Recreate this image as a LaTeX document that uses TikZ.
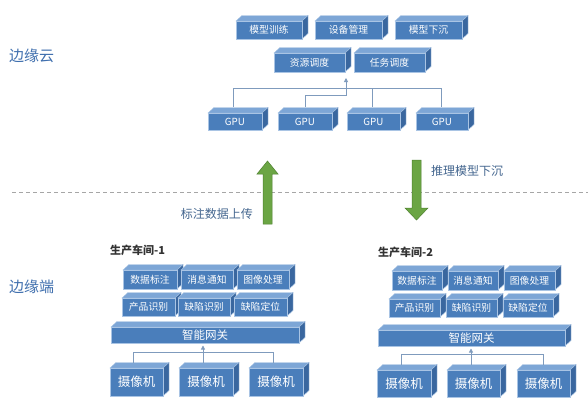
\documentclass[tikz,border=0pt]{standalone}
\usepackage{fontspec}
\setmainfont{Noto Sans CJK SC}
\usetikzlibrary{arrows.meta}
\definecolor{frontc}{HTML}{4A7EBB}
\definecolor{topc}{HTML}{7DA6D6}
\definecolor{sidec}{HTML}{3A679F}
\definecolor{edgec}{HTML}{A9C4E4}
\definecolor{linec}{HTML}{7F9BBD}
\definecolor{greenc}{HTML}{6BA544}
\definecolor{greend}{HTML}{4F8130}
\definecolor{labc}{HTML}{3F6FAE}
\definecolor{arrlab}{HTML}{44668F}
\tikzset{
  frontbox/.style={fill=frontc, draw=edgec, line width=0.4pt, inner sep=0pt, text=white},
  topface/.style={fill=topc, draw=edgec, line width=0.4pt},
  sideface/.style={fill=sidec, draw=edgec, line width=0.4pt},
  conn/.style={draw=linec, line width=0.8pt},
  connarrow/.style={conn, -{Triangle[length=4pt,width=4pt]}},
  greenarrow/.style={fill=greenc, draw=greend, line width=0.5pt},
  sidelabel/.style={text=labc, font=\fontsize{15}{16}\selectfont, anchor=west, inner sep=0pt},
  arrowlabel/.style={text=arrlab, font=\fontsize{12}{13}\selectfont, inner sep=0pt},
  shoptitle/.style={text=black!80, font=\bfseries\fontsize{11}{12}\selectfont, anchor=west, inner sep=0pt},
  fs/.style={font=\fontsize{9.8}{10}\selectfont},
  fm/.style={font=\fontsize{11.5}{12}\selectfont},
  fl/.style={font=\fontsize{12.5}{13}\selectfont},
}
% #1 name, #2 x1, #3 y1, #4 x2, #5 y2, #6 style, #7 text
\newcommand\cuboid[7]{%
  \path[topface] (#2,#3) -- ({#2+6},{#3-5.5}) -- ({#4+6},{#3-5.5}) -- (#4,#3) -- cycle;
  \path[sideface] (#4,#3) -- ({#4+6},{#3-5.5}) -- ({#4+6},{#5-5.5}) -- (#4,#5) -- cycle;
  \node[frontbox, minimum width={(#4-#2)*1pt}, minimum height={(#5-#3)*1pt}, #6] (#1) at ({(#2+#4)/2},{(#3+#5)/2}) {#7};
}
\begin{document}
\begin{tikzpicture}[x=1pt,y=-1pt]
\useasboundingbox[fill=white] (0,0) rectangle (588,405);

% side labels
\node[sidelabel] (cloud) at (9,56) {边缘云};
\node[sidelabel] (edge) at (9,287) {边缘端};

% cloud boxes
\cuboid{m1}{236}{21}{302}{39}{fs}{模型训练}
\cuboid{m2}{315}{21}{382}{39}{fs}{设备管理}
\cuboid{m3}{395}{21}{462}{39}{fs}{模型下沉}
\cuboid{r1}{274}{53}{345}{72}{fs}{资源调度}
\cuboid{r2}{354}{53}{425}{72}{fs}{任务调度}
\cuboid{g1}{208}{113}{262}{130}{fs}{GPU}
\cuboid{g2}{278}{113}{332}{130}{fs}{GPU}
\cuboid{g3}{347}{113}{400}{130}{fs}{GPU}
\cuboid{g4}{416}{113}{468}{130}{fs}{GPU}

\coordinate (ga1) at (233,107);
\coordinate (ga2) at (305,107);
\coordinate (ga3) at (372,107);
\coordinate (ga4) at (441,107);
\coordinate (gtip) at (346,78);
\draw[conn] (ga1) |- (ga4 |- 0,88) -- (ga4);
\draw[conn] (ga3) -- (ga3 |- 0,88);
\draw[connarrow] (ga2) |- (346,95) -- (gtip);

% dashed separator
\coordinate (dl) at (12,192);
\coordinate (dr) at (588,192);
\draw[gray!70, line width=0.7pt, dash pattern=on 4pt off 3pt] (dl) -- (dr);

% green arrows
\path[greenarrow] (263,224) -- (263,174) -- (257,174) -- (267.5,161) -- (278,174) -- (272,174) -- (272,224) -- cycle;
\path[greenarrow] (412,160) -- (412,208) -- (405,208) -- (416.5,220) -- (428,208) -- (421,208) -- (421,160) -- cycle;
\node[arrowlabel, anchor=east] (up) at (253,214) {标注数据上传};
\node[arrowlabel, anchor=west] (down) at (431,171) {推理模型下沉};

% workshop 1
\node[shoptitle] (t1) at (110,250) {生产车间-1};
\cuboid{a1}{123}{270}{177}{289}{fs}{数据标注}
\cuboid{a2}{181}{270}{233}{289}{fs}{消息通知}
\cuboid{a3}{237}{270}{289}{289}{fs}{图像处理}
\cuboid{b1}{122}{298}{175}{316}{fs}{产品识别}
\cuboid{b2}{178}{298}{230}{316}{fs}{缺陷识别}
\cuboid{b3}{234}{298}{287}{316}{fs}{缺陷定位}
\cuboid{w1}{111}{327}{299}{343}{fm}{智能网关}
\cuboid{c1}{110}{368}{163}{396}{fl}{摄像机}
\cuboid{c2}{179}{368}{233}{396}{fl}{摄像机}
\cuboid{c3}{249}{368}{303}{396}{fl}{摄像机}
\coordinate (ca1) at (133,362.5);
\coordinate (ca2) at (203,362.5);
\coordinate (ca3) at (273,362.5);
\coordinate (wt1) at (203,345.5);
\draw[conn] (ca1) |- (ca3 |- 0,352) -- (ca3);
\draw[connarrow] (ca2) -- (wt1);

% workshop 2
\node[shoptitle] (t2) at (378,252) {生产车间-2};
\cuboid{d1}{392}{271}{442}{290}{fs}{数据标注}
\cuboid{d2}{448}{271}{498}{290}{fs}{消息通知}
\cuboid{d3}{504}{271}{555}{290}{fs}{图像处理}
\cuboid{e1}{389}{299}{440}{317}{fs}{产品识别}
\cuboid{e2}{446}{299}{497}{317}{fs}{缺陷识别}
\cuboid{e3}{503}{299}{553}{317}{fs}{缺陷定位}
\cuboid{w2}{378}{330}{565}{346}{fm}{智能网关}
\cuboid{f1}{377}{370}{431}{397}{fl}{摄像机}
\cuboid{f2}{447}{370}{500}{397}{fl}{摄像机}
\cuboid{f3}{517}{370}{570}{397}{fl}{摄像机}
\coordinate (fa1) at (401,364.5);
\coordinate (fa2) at (471,364.5);
\coordinate (fa3) at (543,364.5);
\coordinate (wt2) at (471,348.5);
\draw[conn] (fa1) |- (fa3 |- 0,354) -- (fa3);
\draw[connarrow] (fa2) -- (wt2);
\end{tikzpicture}
\end{document}
